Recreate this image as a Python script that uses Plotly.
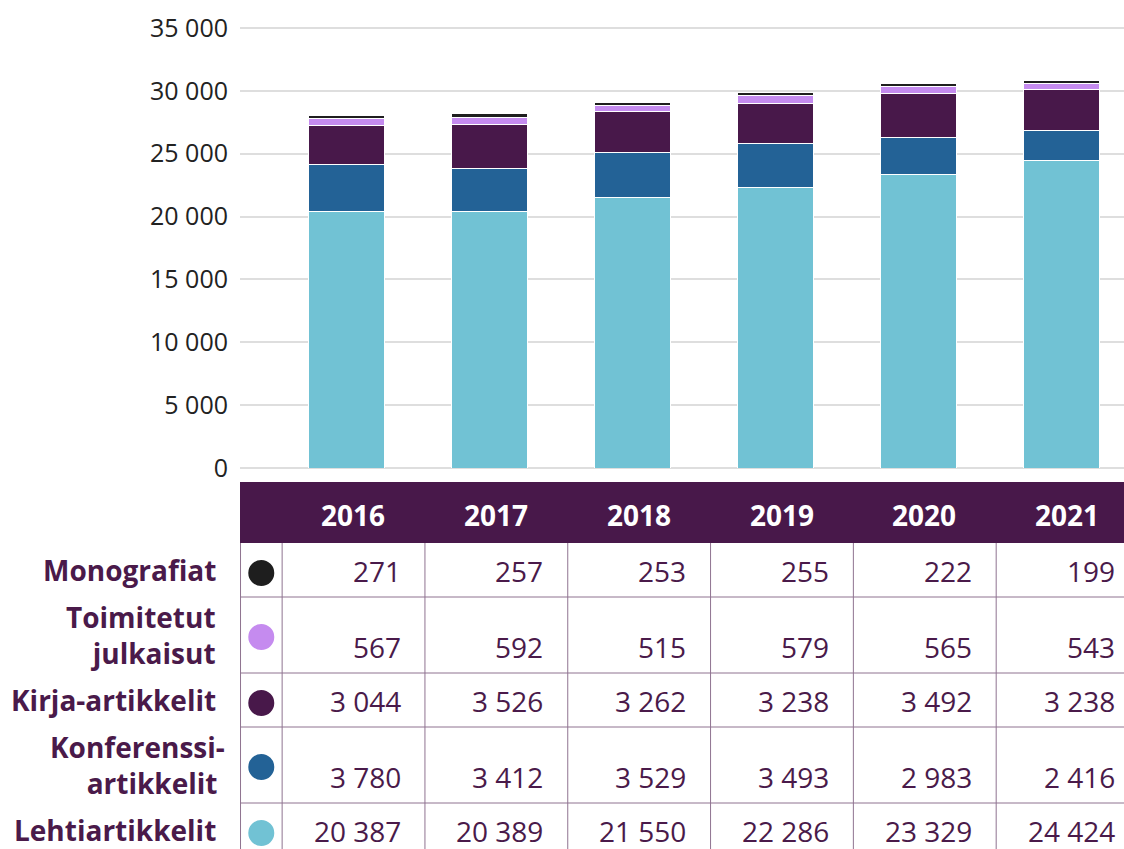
import plotly.graph_objects as go

# ---------------- data ----------------
years = ["2016", "2017", "2018", "2019", "2020", "2021"]
monografiat = [271, 257, 253, 255, 222, 199]
toimitetut = [567, 592, 515, 579, 565, 543]
kirja_artikkelit = [3044, 3526, 3262, 3238, 3492, 3238]
konferenssi_artikkelit = [3780, 3412, 3529, 3493, 2983, 2416]
lehtiartikkelit = [20387, 20389, 21550, 22286, 23329, 24424]

# table rows, top to bottom
row_labels = ["Monografiat", "Toimitetut<br>julkaisut", "Kirja-artikkelit",
              "Konferenssi-<br>artikkelit\u00a0", "Lehtiartikkelit"]
row_names = ["Monografiat", "Toimitetut julkaisut", "Kirja-artikkelit",
             "Konferenssiartikkelit", "Lehtiartikkelit"]
row_values = [monografiat, toimitetut, kirja_artikkelit, konferenssi_artikkelit, lehtiartikkelit]
row_colors = ["#1e1e1e", "#c58bef", "#48184a", "#236296", "#71c2d4"]

y_tick_vals = [0, 5000, 10000, 15000, 20000, 25000, 30000, 35000]
y_tick_text = ["0", "5 000", "10 000", "15 000", "20 000", "25 000", "30 000", "35 000"]

# ---------------- layout constants ----------------
W, H = 1124, 849
FONT = "Open Sans"
PURPLE = "#48184a"
TEXT_PURPLE = "#4a1a4a"
LINE_COL = "#8f7390"


def py(p):
    return 1 - p / H


def fmt(v):
    return f"{v:,}".replace(",", " ")


x = list(range(len(years)))

fig = go.Figure()
# stack from bottom (last row) to top (first row)
for name, vals, col in reversed(list(zip(row_names, row_values, row_colors))):
    fig.add_trace(go.Bar(
        x=x, y=vals, name=name, width=0.532,
        marker=dict(color=col, line=dict(color="white", width=1)),
        hovertemplate="%{y}<extra>" + name + "</extra>",
    ))

fig.update_layout(
    width=W, height=H, margin=dict(l=0, r=0, t=0, b=0, autoexpand=False),
    barmode="stack", showlegend=False,
    plot_bgcolor="white", paper_bgcolor="white",
    font=dict(family=FONT, color="#222222"),
)
fig.update_xaxes(domain=[240 / W, 1], range=[-0.749, 5.441],
                 showticklabels=False, showgrid=False, zeroline=False, showline=False)
fig.update_yaxes(domain=[py(468), py(15.4)], range=[0, 36000],
                 tickvals=y_tick_vals, ticktext=y_tick_text,
                 tickfont=dict(size=25, color="#222222", family=FONT),
                 gridcolor="#dedede", gridwidth=2,
                 zeroline=True, zerolinecolor="#dedede", zerolinewidth=2,
                 showline=False, ticklabelstandoff=11)

# ---------------- table ----------------
header_top, header_bot = 482, 543
row_tops = [543, 597, 673, 727, 803]
row_bots = [597, 673, 727, 803, 857]
col_bounds = [k - 0.454 for k in range(len(years))]
circle_x = -0.60

shapes = []
shapes.append(dict(type="rect", xref="x domain", yref="paper", x0=0, x1=1,
                   y0=py(header_bot), y1=py(header_top), fillcolor=PURPLE,
                   line=dict(width=0), layer="above"))
for b in row_bots[:-1]:
    shapes.append(dict(type="line", xref="x domain", yref="paper", x0=0, x1=1,
                       y0=py(b), y1=py(b), line=dict(color=LINE_COL, width=1)))
shapes.append(dict(type="line", xref="x domain", yref="paper", x0=0.0006, x1=0.0006,
                   y0=py(header_bot), y1=0, line=dict(color=LINE_COL, width=1)))
for cb in col_bounds:
    shapes.append(dict(type="line", xref="x", yref="paper", x0=cb, x1=cb,
                       y0=py(header_bot), y1=0, line=dict(color=LINE_COL, width=1)))

annotations = []
for k, yr in enumerate(years):
    annotations.append(dict(xref="x", yref="paper", x=k + 0.043, y=py(515),
                            text="<b>" + yr + "</b>", showarrow=False,
                            xanchor="center", yanchor="middle",
                            font=dict(size=28, color="white", family=FONT)))

for r, (label, vals, col) in enumerate(zip(row_labels, row_values, row_colors)):
    top, bot = row_tops[r], row_bots[r]
    mid = (top + bot) / 2
    two = "<br>" in label
    num_y = bot - 26 if two else mid + 1
    circ_y = mid + (2 if two else 3)
    # circle marker
    shapes.append(dict(type="circle", xref="x", yref="paper",
                       xsizemode="pixel", ysizemode="pixel",
                       xanchor=circle_x, yanchor=py(circ_y),
                       x0=-13, x1=13, y0=-13, y1=13,
                       fillcolor=col, line=dict(width=0)))
    # values
    for k, v in enumerate(vals):
        annotations.append(dict(xref="x", yref="paper", x=k + 0.39, y=py(num_y),
                                text=fmt(v), showarrow=False,
                                xanchor="right", yanchor="middle",
                                font=dict(size=28, color=TEXT_PURPLE, family=FONT)))
    # row label
    annotations.append(dict(xref="paper", yref="paper",
                            x=(227 if "Konferenssi" in label else 218) / W, y=py(mid),
                            text="<b>" + label + "</b>", showarrow=False,
                            xanchor="right", yanchor="middle", align="right",
                            font=dict(size=28, color=TEXT_PURPLE, family=FONT)))

fig.update_layout(shapes=shapes, annotations=annotations)

fig.write_html("out.html", config={"displayModeBar": False},
               post_script="document.body.style.margin='0';")
